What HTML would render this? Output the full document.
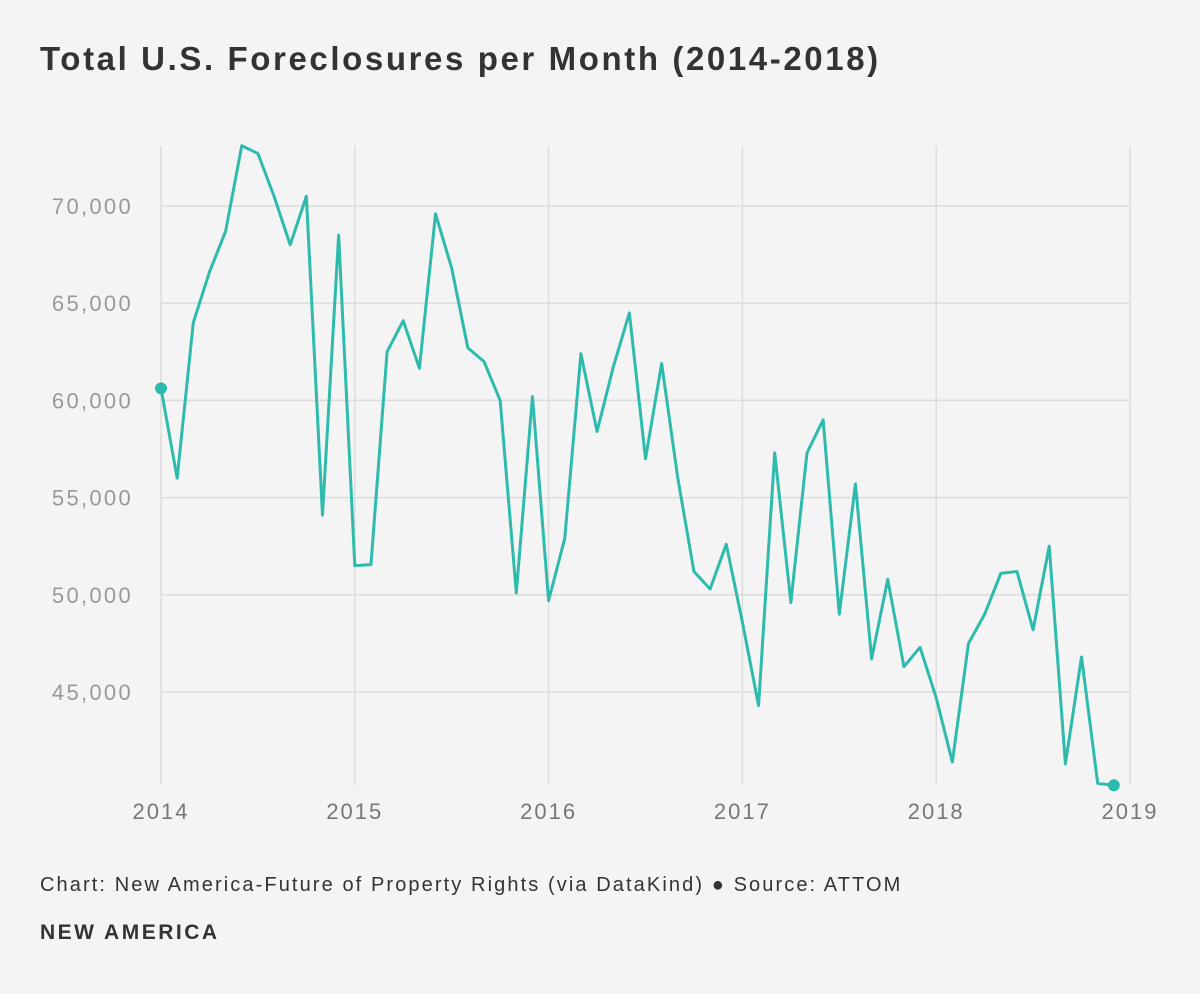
<!DOCTYPE html>
<html><head><meta charset="utf-8"><style>
body{margin:0;background:#f4f4f4;font-family:"Liberation Sans",sans-serif;}
#wrap{position:relative;width:1200px;height:994px;background:#f4f4f4;}
h1{position:absolute;left:40px;top:40px;margin:0;font-size:33px;font-weight:bold;color:#333;letter-spacing:2.6px;}
.src{position:absolute;left:40px;top:874px;font-size:20px;color:#333;letter-spacing:2.1px;}
.brand{position:absolute;left:40px;top:921px;font-size:21px;font-weight:bold;color:#333;letter-spacing:2.5px;}
</style></head><body>
<div id="wrap">
<h1>Total U.S. Foreclosures per Month (2014-2018)</h1>
<svg id="chart" width="1200" height="994" style="position:absolute;left:0;top:0"></svg>
<div class="src">Chart: New America-Future of Property Rights (via DataKind) ● Source: ATTOM</div>
<div class="brand">NEW AMERICA</div>
</div>
<script>
const years=[2014,2015,2016,2017,2018,2019];
const yTicks=[45000,50000,55000,60000,65000,70000];
const values=[60620,56000,64000,66600,68700,73100,72700,70500,68000,70500,54100,68500,
51500,51550,62500,64100,61650,69600,66800,62700,62000,60000,50100,60200,
49700,52900,62400,58400,61700,64500,57000,61900,56000,51200,50300,52600,
48600,44300,57300,49600,57300,59000,49000,55700,46700,50800,46300,47300,
44700,41400,47500,49000,51100,51200,48200,52500,41300,46800,40300,40200];
const NS="http://www.w3.org/2000/svg";
const svg=document.getElementById('chart');
const x=m=>161+m*(1130-161)/60;
const y=v=>206+(70000-v)*(692-206)/25000;
function mk(t,a){const e=document.createElementNS(NS,t);for(const k in a)e.setAttribute(k,a[k]);svg.appendChild(e);return e;}
yTicks.forEach(v=>{
 const l=mk('line',{x1:161,x2:1130,y1:y(v),y2:y(v),stroke:'#dcdcdc','stroke-width':1.5});
 
 
 const t=mk('text',{x:133,y:y(v)+8,'text-anchor':'end','font-size':22,fill:'#999','letter-spacing':2.3,'font-family':'Liberation Sans, sans-serif'});
 t.textContent=v.toLocaleString('en-US');
 
 
});
years.forEach((yr,i)=>{
 const xx=x(i*12);
 const l=mk('line',{x1:xx,x2:xx,y1:146,y2:785,stroke:'#dcdcdc','stroke-width':1.5});
 
 
 const t=mk('text',{x:xx,y:819,'text-anchor':'middle','font-size':22,fill:'#777','letter-spacing':2,'font-family':'Liberation Sans, sans-serif'});
 t.textContent=yr;
 
 
});
const p=mk('polyline',{points:values.map((v,i)=>x(i)+','+y(v)).join(' '),fill:'none',stroke:'#2ebbad','stroke-width':3,'stroke-linejoin':'round'});


[0,values.length-1].forEach(i=>{
 const c=mk('circle',{cx:x(i),cy:y(values[i]),r:6,fill:'#2ebbad'});
 
 
});
</script>
</body></html>
